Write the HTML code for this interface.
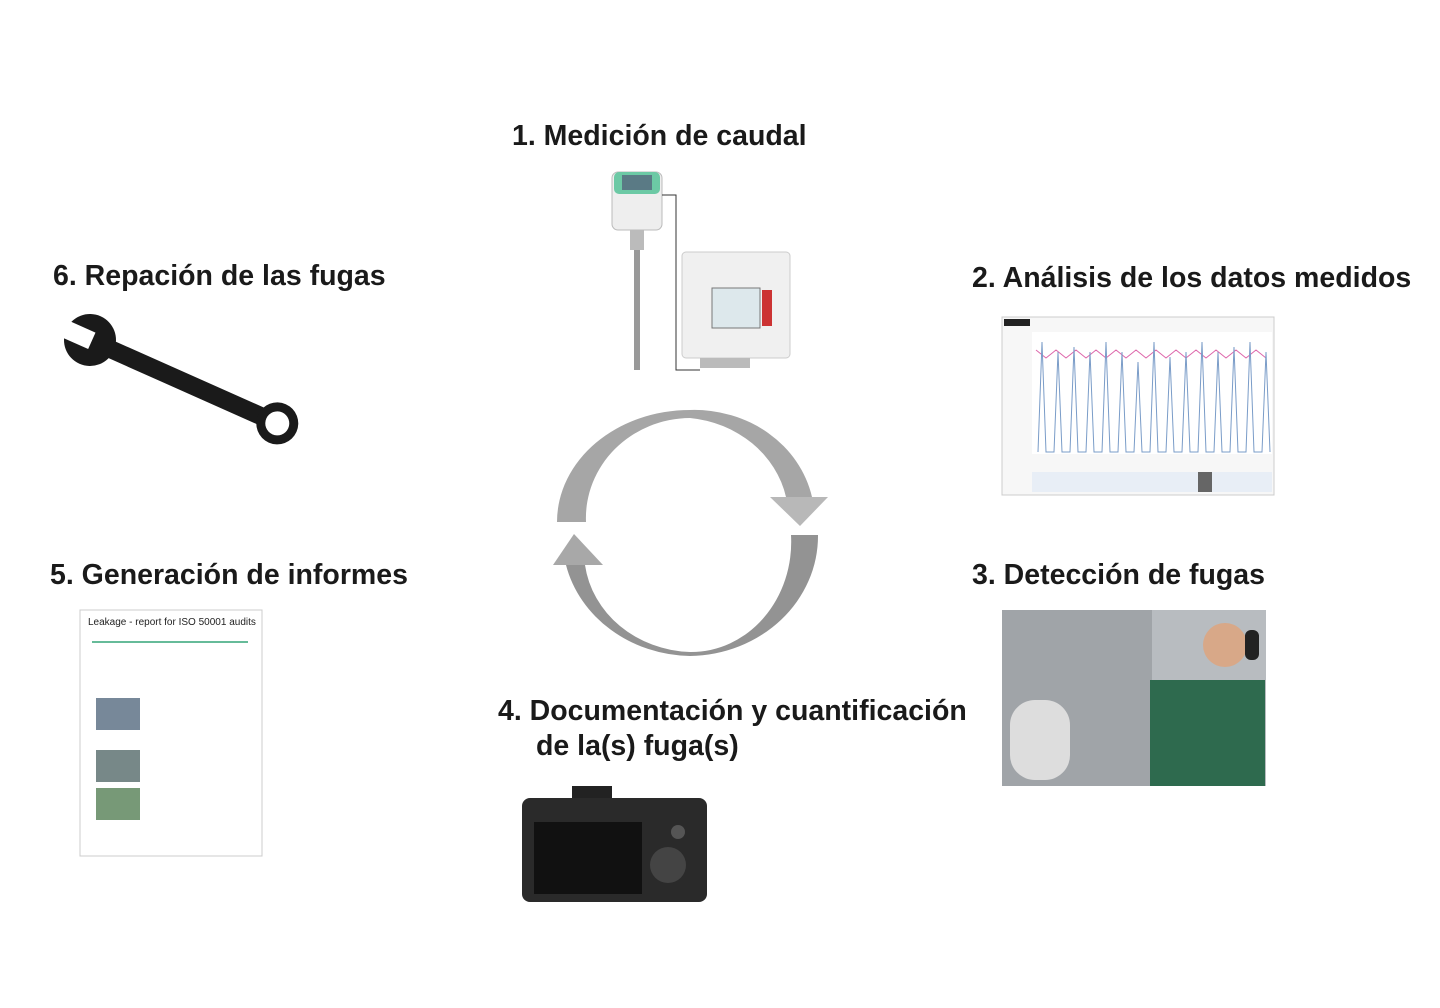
<!DOCTYPE html>
<html><head><meta charset="utf-8"><style>
body{margin:0;width:1440px;height:1008px;background:#fff;position:relative;overflow:hidden;font-family:"Liberation Sans",sans-serif}
.t{position:absolute;font-size:28.5px;font-weight:bold;color:#1a1a1a;white-space:nowrap}
.a{position:absolute}
</style></head><body>
<div class="t" style="left:512px;top:120px">1. Medición de caudal</div>
<div class="t" style="left:972px;top:262px">2. Análisis de los datos medidos</div>
<div class="t" style="left:972px;top:559px">3. Detección de fugas</div>
<div class="t" style="left:498px;top:695px">4. Documentación y cuantificación</div>
<div class="t" style="left:536px;top:730px">de la(s) fuga(s)</div>
<div class="t" style="left:50px;top:559px">5. Generación de informes</div>
<div class="t" style="left:53px;top:260px">6. Repación de las fugas</div>

<svg class="a" style="left:0;top:0" width="1440" height="1008">
<path d="M557,522 A133,112 0 0 1 690,410 A120,110 0 0 1 812,497 L786,497 A110,100 0 0 0 690,418 A105,100 0 0 0 586,522 Z" fill="#a6a6a6"/>
<polygon points="770,497 828,497 800,526" fill="#b8b8b8"/>
<path d="M818,535 A130,120 0 0 1 690,656 A130,118 0 0 1 566,565 L585,565 A110,100 0 0 0 690,652 A100,110 0 0 0 791,535 Z" fill="#939393"/>
<polygon points="553,565 603,565 574,534" fill="#a8a8a8"/>

<rect x="612" y="172" width="50" height="58" rx="6" fill="#eee" stroke="#bbb"/>
<rect x="614" y="172" width="46" height="22" rx="5" fill="#6cc9a5"/>
<rect x="622" y="175" width="30" height="15" fill="#5a7a85"/>
<rect x="630" y="230" width="14" height="20" fill="#bbb"/>
<rect x="634" y="250" width="6" height="120" fill="#999"/>
<polyline points="662,195 676,195 676,370 700,370" fill="none" stroke="#333" stroke-width="1"/>
<rect x="682" y="252" width="108" height="106" rx="4" fill="#f0f0f0" stroke="#ccc"/>
<rect x="712" y="288" width="48" height="40" fill="#dde8ec" stroke="#777"/>
<rect x="762" y="290" width="10" height="36" fill="#c33"/>
<rect x="700" y="358" width="50" height="10" fill="#bbb"/>

<rect x="1002" y="317" width="272" height="178" fill="#f7f7f7" stroke="#ccc"/>
<rect x="1004" y="319" width="26" height="7" fill="#222"/>
<rect x="1032" y="332" width="240" height="122" fill="#fff"/>
<path d="M1036,350 l10,8 l10,-8 l10,8 l10,-8 l10,8 l10,-8 l10,8 l10,-8 l10,8 l10,-8 l10,8 l10,-8 l10,8 l10,-8 l10,8 l10,-8 l10,8 l10,-8 l10,8 l10,-8 l10,8 l10,-8 l10,8" fill="none" stroke="#d6a" stroke-width="1"/>
<path d="M1038,452 l4,-110 l4,110 l8,0 l4,-100 l4,100 l8,0 l4,-105 l4,105 l8,0 l4,-100 l4,100 l8,0 l4,-110 l4,110 l8,0 l4,-100 l4,100 l8,0 l4,-90 l4,90 l8,0 l4,-110 l4,110 l8,0 l4,-95 l4,95 l8,0 l4,-100 l4,100 l8,0 l4,-110 l4,110 l8,0 l4,-100 l4,100 l8,0 l4,-105 l4,105 l8,0 l4,-110 l4,110 l8,0 l4,-100 l4,100" fill="none" stroke="#7a9cc8" stroke-width="1"/>
<rect x="1032" y="472" width="240" height="20" fill="#e8eef6"/>
<rect x="1198" y="472" width="14" height="20" fill="#666"/>

<rect x="1002" y="610" width="264" height="176" fill="#b8bcc0"/>
<rect x="1002" y="610" width="150" height="176" fill="#a0a4a8"/>
<rect x="1010" y="700" width="60" height="80" rx="25" fill="#ddd"/>
<rect x="1150" y="680" width="115" height="106" fill="#2e6a4e"/>
<circle cx="1225" cy="645" r="22" fill="#d8a888"/>
<rect x="1245" y="630" width="14" height="30" rx="6" fill="#222"/>

<rect x="572" y="786" width="40" height="16" fill="#222"/>
<rect x="522" y="798" width="185" height="104" rx="8" fill="#2a2a2a"/>
<rect x="534" y="822" width="108" height="72" fill="#111"/>
<circle cx="668" cy="865" r="18" fill="#444"/>
<circle cx="678" cy="832" r="7" fill="#555"/>

<rect x="80" y="610" width="182" height="246" fill="#fff" stroke="#ccc"/>
<text x="88" y="625" font-size="10" font-family="Liberation Sans" fill="#222">Leakage - report for ISO 50001 audits</text>
<line x1="92" y1="642" x2="248" y2="642" stroke="#6b9" stroke-width="2"/>
<rect x="96" y="698" width="44" height="32" fill="#789"/>
<rect x="96" y="750" width="44" height="32" fill="#788"/>
<rect x="96" y="788" width="44" height="32" fill="#797"/>

<!-- wrench -->
<g transform="translate(90,340) rotate(24)">
<rect x="10" y="-9" width="190" height="18" rx="4" fill="#1a1a1a"/>
<circle cx="0" cy="0" r="26" fill="#1a1a1a"/>
<rect x="-32" y="-9" width="34" height="18" fill="#fff"/>
<circle cx="205" cy="0" r="21" fill="#1a1a1a"/>
<circle cx="205" cy="0" r="12" fill="#fff"/>
</g>
</svg>
</body></html>
